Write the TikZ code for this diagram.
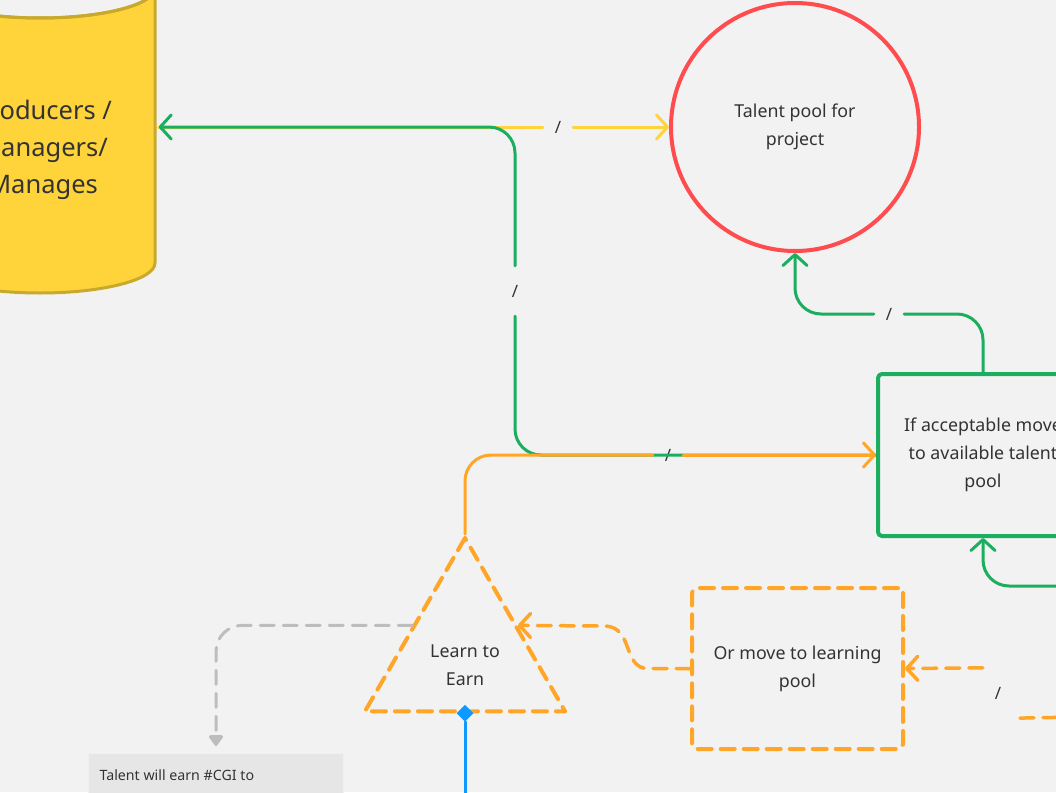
\documentclass[tikz,border=0pt]{standalone}
\usepackage{fontspec}
\setmainfont{Noto Sans}
\usetikzlibrary{arrows.meta,shapes.geometric,calc}
\definecolor{canvas}{HTML}{F2F2F2}
\definecolor{cylfill}{HTML}{FFD43A}
\definecolor{cylline}{HTML}{C9A92C}
\definecolor{ylw}{HTML}{FFD23F}
\definecolor{grn}{HTML}{1BAE5F}
\definecolor{rd}{HTML}{FF4D4F}
\definecolor{orng}{HTML}{FFA629}
\definecolor{gry}{HTML}{BDBDBD}
\definecolor{blu}{HTML}{0D99FF}
\definecolor{notefill}{HTML}{E6E6E6}
\definecolor{ink}{HTML}{333333}
\tikzset{
  gap/.style={minimum width=30pt, minimum height=50pt, inner sep=0pt, font=\fontsize{17}{20}\selectfont, text=ink},
  chev/.style={-{Straight Barb[length=11pt,width=24pt,round]}},
  link/.style={line width=3pt, rounded corners=26pt},
  dsh/.style={dash pattern=on 14pt off 9pt},
  txt/.style={font=\fontsize{17.8}{28}\selectfont, text=ink, align=center}
}

\begin{document}
\begin{tikzpicture}[x=1pt,y=-1pt,line cap=round,line join=round]
\useasboundingbox (0,0) rectangle (1056,792);
\clip (0,0) rectangle (1056,792);
\fill[canvas] (0,0) rectangle (1056,792);

% producers cylinder
\filldraw[fill=cylfill,draw=cylline,line width=3pt] (-75,-12) -- (-75,263)
  arc[start angle=180,end angle=0,x radius=115,y radius=30] -- (155,-12)
  arc[start angle=0,end angle=180,x radius=115,y radius=30] -- cycle;
\draw[cylline,line width=3pt] (40,-12) ellipse[x radius=115,y radius=30];
\node[minimum width=237pt, minimum height=275pt] (prod) at (40,127) {};
\node[font=\fontsize{25.5}{37}\selectfont, text=ink, align=center] (prodtxt) at (43,150) {Producers /\\Managers/\\Manages};

% shapes
\node[circle, draw=rd, line width=4pt, minimum size=248pt, inner sep=0pt, txt] (talent) at (795,127) {Talent pool for\\project};
\node[draw=grn, line width=4pt, rounded corners=4pt, minimum width=210pt, minimum height=162pt, txt] (accept) at (983,455) {If acceptable move\\to available talent\\pool};
\node[draw=orng, dsh, line width=4pt, rounded corners=5pt, minimum width=211pt, minimum height=161pt, txt] (learn) at (797.5,668.5) {Or move to learning\\pool};
\node[regular polygon, regular polygon sides=3, draw=orng, dsh, line width=4pt, minimum size=231pt, inner sep=0pt] (earn) at (465,653.5) {};
\node[txt] (earntxt) at (465,665) {Learn to\\Earn};
\node[fill=notefill, draw=black!6, line width=1pt, minimum width=255pt, minimum height=100pt, anchor=north west] (note) at (88,753) {};
\node[anchor=west, font=\fontsize{14.2}{17}\selectfont, text=ink] (notetxt) at (96,775) {Talent will earn \#CGI to};

% labels on connectors
\foreach \n/\x/\y in {ylbl/558/127, glbl/515/291, olbl/668/455, tlbl/889/314, rlbl/998/693}
  \node[gap] (\n) at (\x,\y) {/};

% connectors
\draw[link, ylw] (prod.east) -- (ylbl.west);
\draw[link, ylw, chev] (ylbl.east) -- (talent.west);
\draw[link, grn] (accept.west) -| (glbl.south);
\draw[link, grn, chev] (glbl.north) |- (prod.east);
\draw[link, orng] (earn.corner 1) |- (olbl.west);
\draw[link, orng, chev] (olbl.east) -- (accept.west);
\draw[link, grn] (accept.north) |- (tlbl.east);
\draw[link, grn, chev] (tlbl.west) -| (talent.south);
\coordinate (gin) at (1080,586);
\draw[link, grn, chev] (gin) -| (accept.south);
\coordinate (oin) at (1080,717);
\draw[link, orng, dsh, line width=3.5pt] (oin) -- (rlbl.south east);
\draw[link, orng, dsh, line width=3.5pt, chev] (rlbl.north west) -- (learn.east);
\draw[orng, dsh, line width=3.5pt, chev] (learn.west) -- (648,668.5) .. controls (622,668.5) and (634,626) .. (604,626) -- ($(earn.corner 1)!0.51!(earn.corner 3)$);
\draw[gry, dsh, line width=3pt, rounded corners=26pt, shorten >=7pt, -{Triangle[length=12pt,width=16pt,round]}] ($(earn.corner 1)!0.51!(earn.corner 2)$) -| (note.north);
\node[diamond, fill=blu, minimum size=17pt, inner sep=0pt] (pin) at (earn.side 2) {};
\coordinate (bout) at (465,800);
\draw[blu, line width=3pt] (pin.south) -- (bout);
\end{tikzpicture}
\end{document}
